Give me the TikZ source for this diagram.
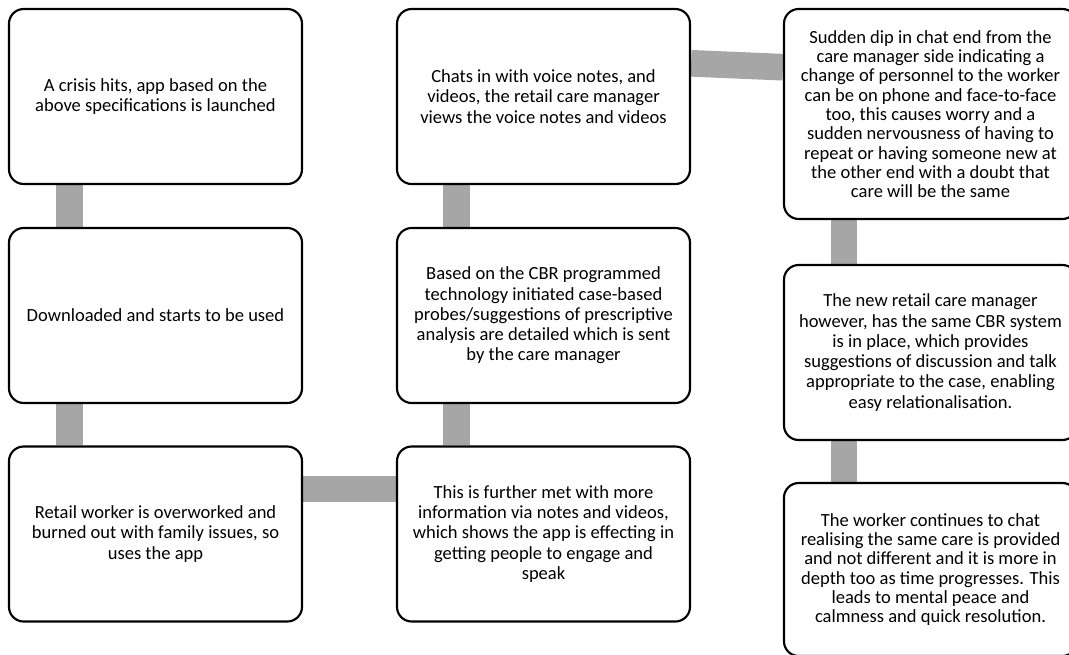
\documentclass[tikz,border=0pt]{standalone}
\usepackage{fontspec}
\setmainfont{Carlito}
\pgfdeclarelayer{background}
\pgfsetlayers{background,main}
\definecolor{conngray}{HTML}{A6A6A6}
\begin{document}
\begin{tikzpicture}[x=0.75pt,y=-0.75pt,
  box/.style={draw=black, line width=1.6pt, rounded corners=11pt, fill=white,
    minimum width=219.75pt, align=center, inner sep=0pt,
    font=\fontsize{13.9pt}{15.2pt}\selectfont},
  tightbox/.style={box, font=\fontsize{13.9pt}{14.5pt}\selectfont},
  conn/.style={draw=conngray, line width=20pt}]
\useasboundingbox (0,0) rectangle (1069,654);
\begin{scope}
\clip (0,0) rectangle (1069,654);
\node[box, minimum height=131.25pt] (c1a) at (155.5,96.5) {A crisis hits, app based on the\\above specifications is launched};
\node[box, minimum height=131.25pt] (c1b) at (155.5,315.5) {Downloaded and starts to be used};
\node[box, minimum height=131.25pt] (c1c) at (155.5,534) {Retail worker is overworked and\\burned out with family issues, so\\uses the app};
\node[box, minimum height=131.25pt] (c2a) at (543.5,96.5) {Chats in with voice notes, and\\videos, the retail care manager\\views the voice notes and videos};
\node[box, minimum height=131.25pt] (c2b) at (543.5,315.5) {Based on the CBR programmed\\technology initiated case-based\\probes/suggestions of prescriptive\\analysis are detailed which is sent\\by the care manager};
\node[box, minimum height=131.25pt] (c2c) at (543.5,534) {This is further met with more\\information via notes and videos,\\which shows the app is effecting in\\getting people to engage and\\speak};
\node[tightbox, minimum height=157.5pt] (c3a) at (930.5,114) {Sudden dip in chat end from the\\care manager side indicating a\\change of personnel to the worker\\can be on phone and face-to-face\\too, this causes worry and a\\sudden nervousness of having to\\repeat or having someone new at\\the other end with a doubt that\\care will be the same};
\node[box, minimum height=131.25pt] (c3b) at (930.5,352.5) {The new retail care manager\\however, has the same CBR system\\is in place, which provides\\suggestions of discussion and talk\\appropriate to the case, enabling\\easy relationalisation.};
\node[tightbox, minimum height=129.75pt] (c3c) at (930.5,569.5) {The worker continues to chat\\realising the same care is provided\\and not different and it is more in\\depth too as time progresses. This\\leads to mental peace and\\calmness and quick resolution.};
\begin{pgfonlayer}{background}
\draw[conn] ([xshift=-64.5pt]c1a.south) -- ([xshift=-64.5pt]c1b.north);
\draw[conn] ([xshift=-64.5pt]c1b.south) -- ([xshift=-64.5pt]c1c.north);
\draw[conn] ([yshift=33.75pt]c1c.east) -- ([yshift=33.75pt]c2c.west);
\draw[conn] ([xshift=-65.5pt]c2c.north) -- ([xshift=-65.5pt]c2b.south);
\draw[conn] ([xshift=-65.5pt]c2b.north) -- ([xshift=-65.5pt]c2a.south);
\draw[conn] ([yshift=24.9pt]c2a.east) -- ([yshift=35.1pt]c3a.west);
\draw[conn] ([xshift=-65pt]c3a.south) -- ([xshift=-65pt]c3b.north);
\draw[conn] ([xshift=-65pt]c3b.south) -- ([xshift=-65pt]c3c.north);
\end{pgfonlayer}
\end{scope}
\end{tikzpicture}
\end{document}
